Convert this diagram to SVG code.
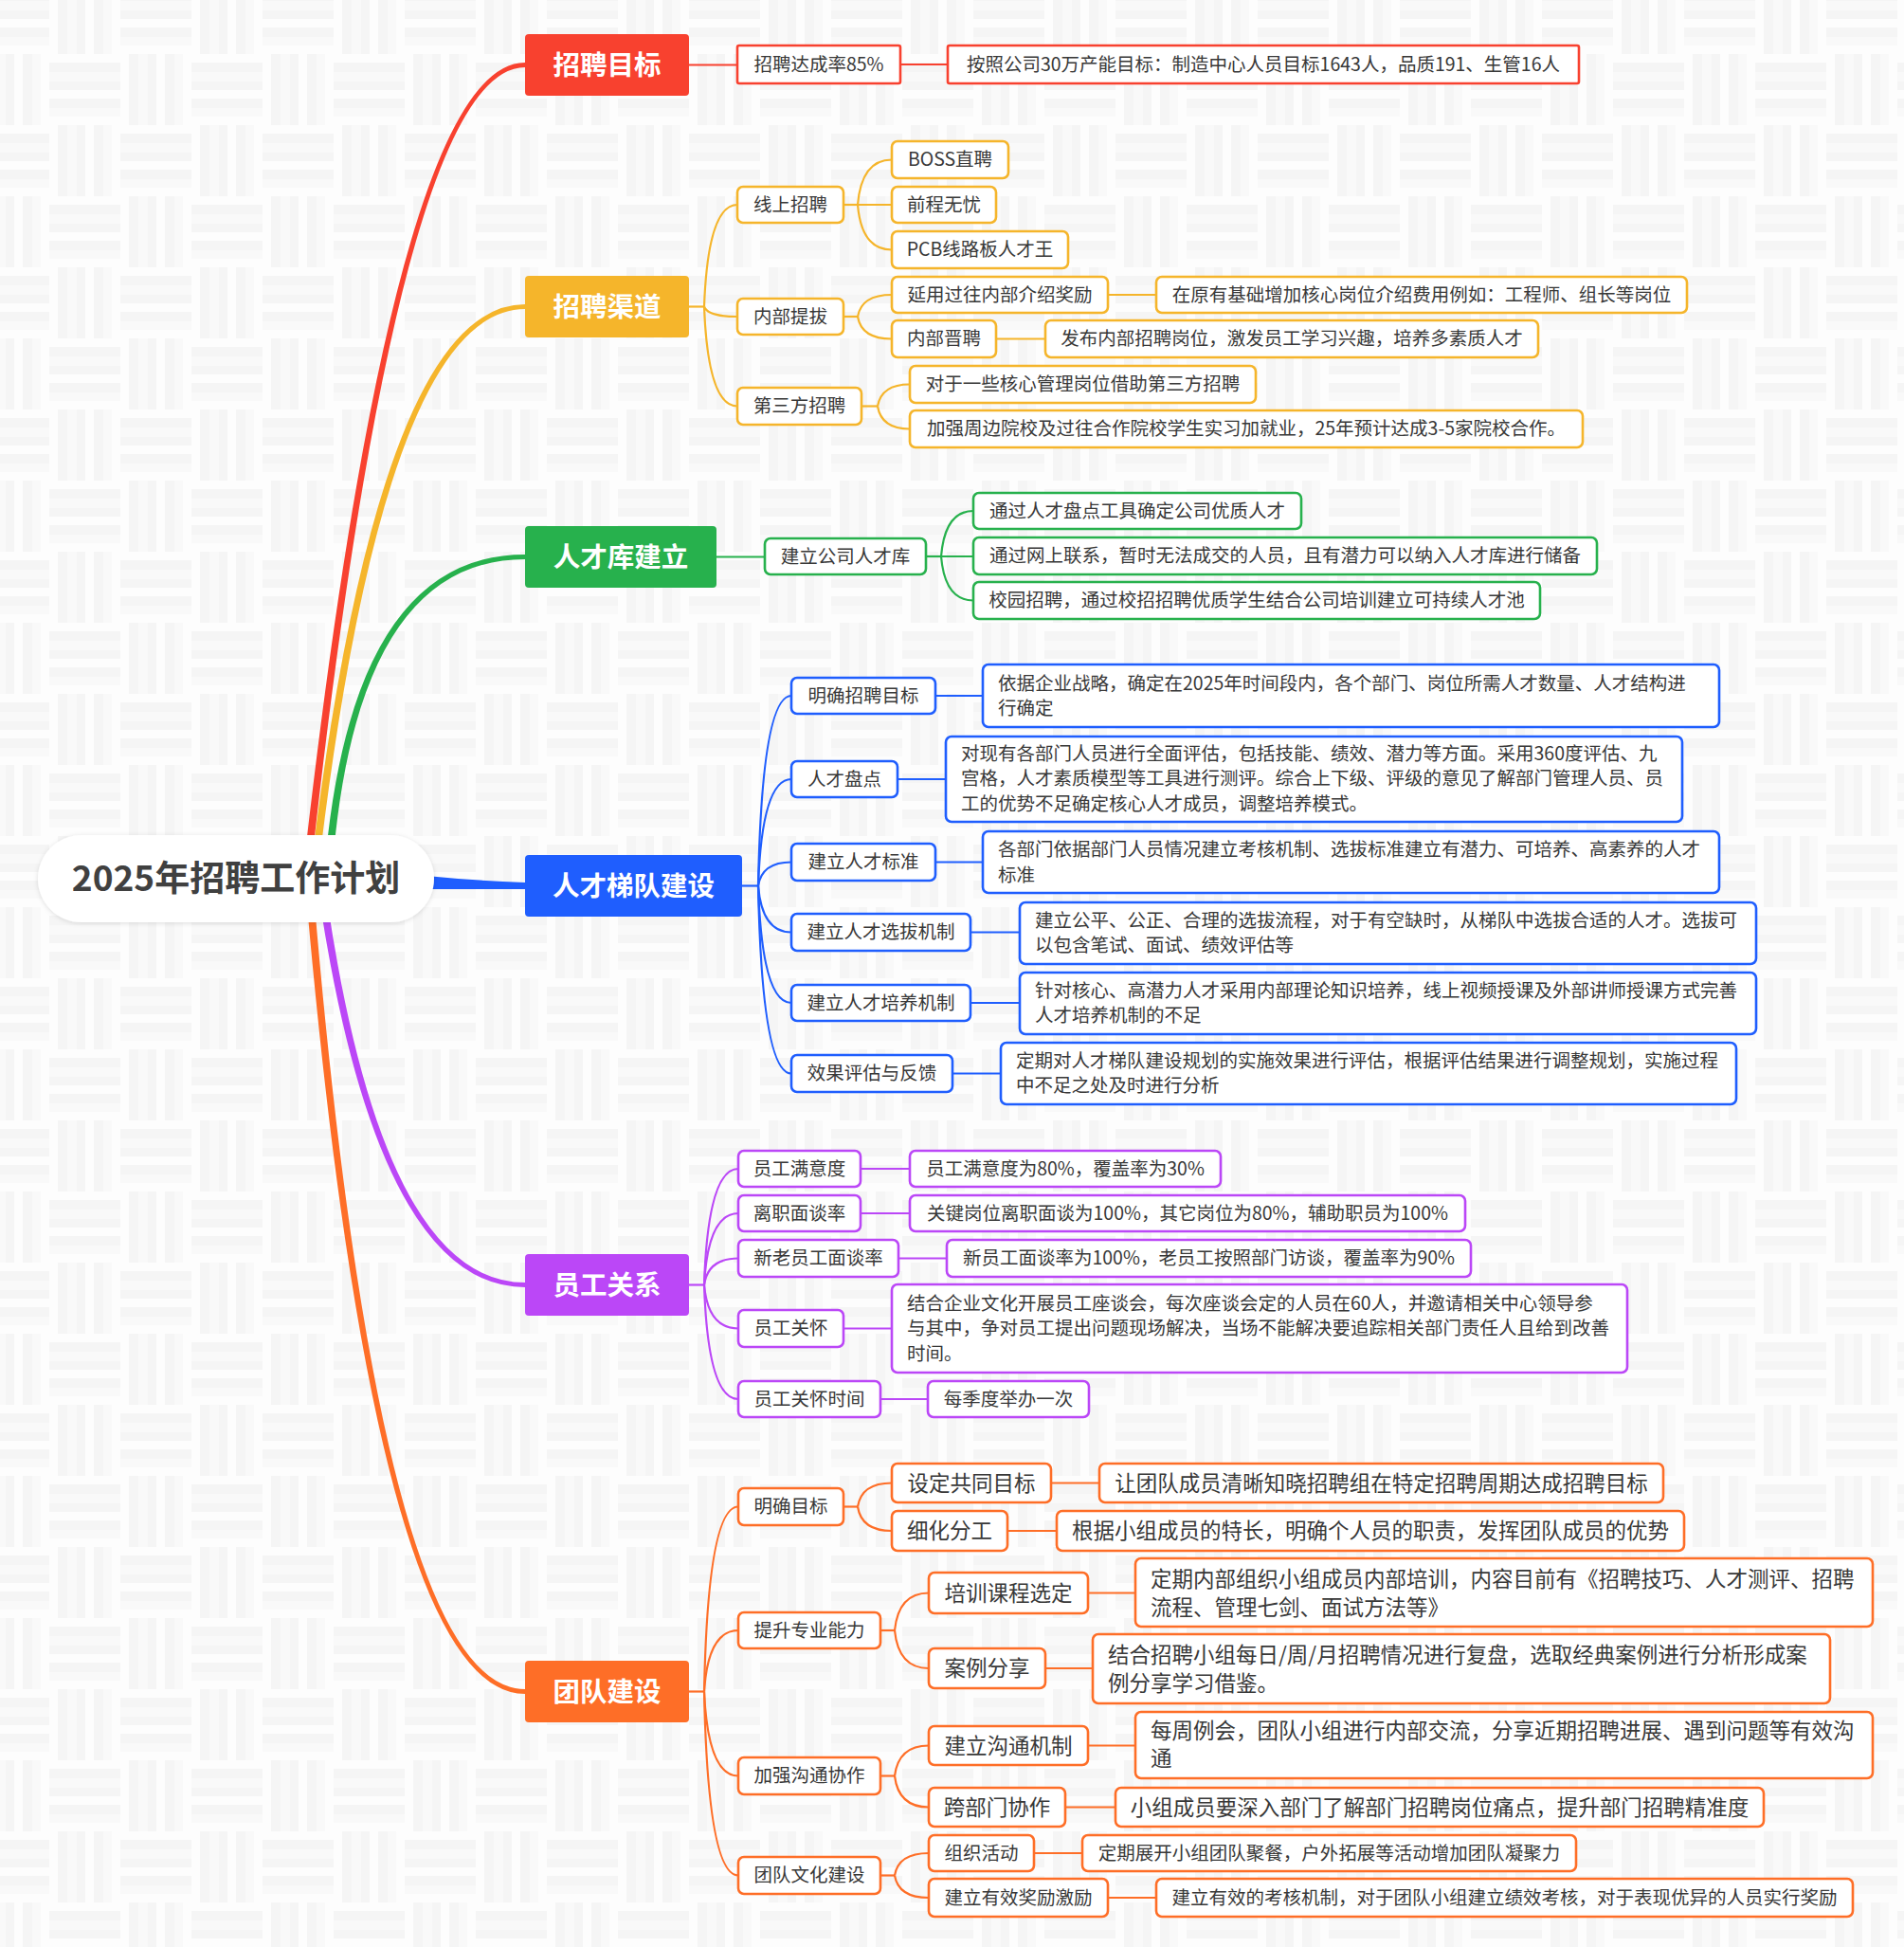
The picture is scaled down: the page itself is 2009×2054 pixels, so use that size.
<svg xmlns="http://www.w3.org/2000/svg" width="2009" height="2054" viewBox="0 0 2009 2054">
<defs>
<pattern id="bg" x="52" y="57" width="150" height="150" patternUnits="userSpaceOnUse">
<rect width="150" height="150" fill="#fdfdfd"/>
<g fill="#f5f5f5">
<rect x="0" y="9" width="75" height="10"/><rect x="0" y="29" width="75" height="9"/><rect x="0" y="47" width="75" height="10"/>
<rect x="75" y="84" width="75" height="10"/><rect x="75" y="104" width="75" height="9"/><rect x="75" y="122" width="75" height="10"/>
<rect x="84" y="0" width="10" height="75"/><rect x="104" y="0" width="9" height="75"/><rect x="122" y="0" width="10" height="75"/>
<rect x="9" y="75" width="10" height="75"/><rect x="29" y="75" width="9" height="75"/><rect x="47" y="75" width="10" height="75"/>
</g>
<g fill="#f9f9f9">
<rect x="0" y="19" width="75" height="10"/><rect x="0" y="57" width="75" height="9"/>
<rect x="75" y="94" width="75" height="10"/><rect x="75" y="132" width="75" height="9"/>
<rect x="94" y="0" width="10" height="75"/><rect x="132" y="0" width="9" height="75"/>
<rect x="19" y="75" width="10" height="75"/><rect x="57" y="75" width="9" height="75"/>
</g>
</pattern>
<filter id="sh" x="-10%" y="-30%" width="120%" height="160%">
<feDropShadow dx="0" dy="1" stdDeviation="2.5" flood-color="#000" flood-opacity="0.13"/>
</filter>
</defs>
<style>
text{font-family:"Noto Sans CJK SC","Noto Sans",sans-serif;font-size:19.5px;fill:#383838;dominant-baseline:central;transform:translateY(-2px)}
.c{text-anchor:middle}
.l{text-anchor:start}
.big{font-size:22.5px}
.mt{font-size:28.5px;font-weight:bold;fill:#fff;text-anchor:middle}
.root{font-size:37px;font-weight:bold;fill:#404040;text-anchor:middle}
.nr{fill:#fff;stroke:#f8412f;stroke-width:2.6}
.ny{fill:#fff;stroke:#f5b52b;stroke-width:2.6}
.ng{fill:#fff;stroke:#27b14d;stroke-width:2.6}
.nb{fill:#fff;stroke:#1f5efe;stroke-width:2.6}
.np{fill:#fff;stroke:#bb47f7;stroke-width:2.6}
.no{fill:#fff;stroke:#fe6e27;stroke-width:2.6}
.cn path{fill:none;stroke-width:2.2}
.sr{stroke:#f8412f}.sy{stroke:#f5b52b}.sg{stroke:#27b14d}.sb{stroke:#1f5efe}.sp{stroke:#bb47f7}.so{stroke:#fe6e27}
</style>
<rect width="2009" height="2054" fill="url(#bg)"/>

<g id="connectors">
<g id="main-branches">
<path d="M330 900 Q402 321 554 321 L554 326 Q408 326 338 900 Z" fill="#f5b52b"/>
<path d="M322 900 Q417.5 66 554 66 L554 71 Q422.5 71 330 900 Z" fill="#f8412f"/>
<path d="M344 900 Q375.5 585 554 585 L554 590 Q380.5 590 352 900 Z" fill="#27b14d"/>
<path d="M450 924 Q500 929 554 931 L554 938 Q500 938 450 938 Z" fill="#1f5efe"/>
<path d="M324 955 Q397.5 1787 554 1787 L554 1782 Q402.5 1782 332 955 Z" fill="#fe6e27"/>
<path d="M338 955 Q400.5 1358 554 1358 L554 1353 Q405.5 1353 346 955 Z" fill="#bb47f7"/>
</g>
<g class="cn">
<g class="sr">
<path d="M727 68.5 H778"/>
<path d="M950 68 H1000"/>
</g>
<g class="sy">
<path d="M727 323.5 H743"/>
<path d="M743 323.5 Q747 216 778 216"/>
<path d="M743 323.5 Q747 334 778 334"/>
<path d="M743 323.5 Q747 428.5 778 428.5"/>
<path d="M890 216 H905"/>
<path d="M905 216 Q909 168.5 941 168.5"/>
<path d="M905 216 H941"/>
<path d="M905 216 Q909 263.5 941 263.5"/>
<path d="M890 334 H905"/>
<path d="M905 334 Q909 311 941 311"/>
<path d="M905 334 Q909 357.5 941 357.5"/>
<path d="M909 428.5 H926"/>
<path d="M926 428.5 Q930 405.5 960 405.5"/>
<path d="M926 428.5 Q930 452.5 960 452.5"/>
<path d="M1169 311 H1220"/>
<path d="M1051 357.5 H1103"/>
</g>
<g class="sg">
<path d="M756 587.5 H807"/>
<path d="M977 587 H993"/>
<path d="M993 587 Q997 539 1027 539"/>
<path d="M993 587 H1027"/>
<path d="M993 587 Q997 633.5 1027 633.5"/>
</g>
<g class="sb">
<path d="M783 934.5 H800"/>
<path d="M800 934.5 Q804 734 835 734"/>
<path d="M800 934.5 Q804 822 835 822"/>
<path d="M800 934.5 Q804 909.5 835 909.5"/>
<path d="M800 934.5 Q804 983.5 835 983.5"/>
<path d="M800 934.5 Q804 1058 835 1058"/>
<path d="M800 934.5 Q804 1132.5 835 1132.5"/>
<path d="M987 734 H1037"/>
<path d="M947 822 H998"/>
<path d="M987 909.5 H1037"/>
<path d="M1024 983.5 H1076"/>
<path d="M1024 1058 H1076"/>
<path d="M1005 1132.5 H1056"/>
</g>
<g class="sp">
<path d="M727 1355.5 H743"/>
<path d="M743 1355.5 Q747 1233 779 1233"/>
<path d="M743 1355.5 Q747 1280 779 1280"/>
<path d="M743 1355.5 Q747 1327.5 779 1327.5"/>
<path d="M743 1355.5 Q747 1401.5 779 1401.5"/>
<path d="M743 1355.5 Q747 1476 779 1476"/>
<path d="M908 1233 H960"/>
<path d="M908 1280 H960"/>
<path d="M948 1327.5 H999"/>
<path d="M890 1401.5 H941"/>
<path d="M929 1476 H979"/>
</g>
<g class="so">
<path d="M727 1784.5 H743"/>
<path d="M743 1784.5 Q747 1589.5 779 1589.5"/>
<path d="M743 1784.5 Q747 1720 779 1720"/>
<path d="M743 1784.5 Q747 1873.5 779 1873.5"/>
<path d="M743 1784.5 Q747 1978.5 779 1978.5"/>
<path d="M890 1589.5 H905"/>
<path d="M905 1589.5 Q909 1564.5 941 1564.5"/>
<path d="M905 1589.5 Q909 1615 941 1615"/>
<path d="M929 1720 H944"/>
<path d="M944 1720 Q948 1680.5 980 1680.5"/>
<path d="M944 1720 Q948 1760 980 1760"/>
<path d="M929 1873.5 H944"/>
<path d="M944 1873.5 Q948 1841.5 980 1841.5"/>
<path d="M944 1873.5 Q948 1906.5 980 1906.5"/>
<path d="M929 1978.5 H944"/>
<path d="M944 1978.5 Q948 1955 980 1955"/>
<path d="M944 1978.5 Q948 2002 980 2002"/>
<path d="M1109 1564.5 H1160"/>
<path d="M1063 1615 H1115"/>
<path d="M1148 1680.5 H1198"/>
<path d="M1103 1760 H1153"/>
<path d="M1148 1841.5 H1198"/>
<path d="M1124 1906.5 H1177"/>
<path d="M1091 1955 H1142"/>
<path d="M1169 2002 H1220"/>
</g>
</g>
</g>

<g id="root"><rect x="40" y="881" width="418" height="92" rx="46" fill="#fff" filter="url(#sh)"/><text class="root" x="249" y="926">2025年招聘工作计划</text></g>

<g id="n-zpmb"><rect x="554" y="36" width="173" height="65" rx="4" fill="#f8412f"/><text class="mt" x="640.5" y="68.5">招聘目标</text></g>
<g id="n-zpdcl"><rect class="nr" x="778" y="48" width="172" height="40" rx="2"/><text class="c" x="864" y="68">招聘达成率85%</text></g>
<g id="n-azgs"><rect class="nr" x="1000" y="48" width="666" height="40" rx="2"/><text class="c" x="1333" y="68">按照公司30万产能目标：制造中心人员目标1643人，品质191、生管16人</text></g>

<g id="n-zpqd"><rect x="554" y="291" width="173" height="65" rx="4" fill="#f5b52b"/><text class="mt" x="640.5" y="323.5">招聘渠道</text></g>
<g id="n-xszp"><rect class="ny" x="778" y="197" width="112" height="38" rx="6"/><text class="c" x="834" y="216">线上招聘</text></g>
<g id="n-boss"><rect class="ny" x="941" y="149" width="123" height="39" rx="6"/><text class="c" x="1002.5" y="168.5">BOSS直聘</text></g>
<g id="n-qcwy"><rect class="ny" x="941" y="197" width="110" height="38" rx="6"/><text class="c" x="996" y="216">前程无忧</text></g>
<g id="n-pcb"><rect class="ny" x="941" y="244" width="186" height="39" rx="6"/><text class="c" x="1034" y="263.5">PCB线路板人才王</text></g>
<g id="n-nbtb"><rect class="ny" x="778" y="315" width="112" height="38" rx="6"/><text class="c" x="834" y="334">内部提拔</text></g>
<g id="n-yygw"><rect class="ny" x="941" y="292" width="228" height="38" rx="6"/><text class="c" x="1055" y="311">延用过往内部介绍奖励</text></g>
<g id="n-zyyjc"><rect class="ny" x="1220" y="292" width="560" height="38" rx="6"/><text class="c" x="1500" y="311">在原有基础增加核心岗位介绍费用例如：工程师、组长等岗位</text></g>
<g id="n-nbjp"><rect class="ny" x="941" y="338" width="110" height="39" rx="6"/><text class="c" x="996" y="357.5">内部晋聘</text></g>
<g id="n-fbnb"><rect class="ny" x="1103" y="338" width="520" height="39" rx="6"/><text class="c" x="1363" y="357.5">发布内部招聘岗位，激发员工学习兴趣，培养多素质人才</text></g>
<g id="n-dsf"><rect class="ny" x="778" y="409" width="131" height="39" rx="6"/><text class="c" x="843.5" y="428.5">第三方招聘</text></g>
<g id="n-dyyx"><rect class="ny" x="960" y="386" width="365" height="39" rx="6"/><text class="c" x="1142.5" y="405.5">对于一些核心管理岗位借助第三方招聘</text></g>
<g id="n-jqzb"><rect class="ny" x="960" y="433" width="710" height="39" rx="6"/><text class="c" x="1315" y="452.5">加强周边院校及过往合作院校学生实习加就业，25年预计达成3-5家院校合作。</text></g>

<g id="n-rckjl"><rect x="554" y="555" width="202" height="65" rx="4" fill="#27b14d"/><text class="mt" x="655" y="587.5">人才库建立</text></g>
<g id="n-jlgs"><rect class="ng" x="807" y="568" width="170" height="38" rx="6"/><text class="c" x="892" y="587">建立公司人才库</text></g>
<g id="n-tgrc"><rect class="ng" x="1027" y="520" width="346" height="38" rx="6"/><text class="c" x="1200" y="539">通过人才盘点工具确定公司优质人才</text></g>
<g id="n-tgws"><rect class="ng" x="1027" y="567" width="658" height="39" rx="6"/><text class="c" x="1356" y="586.5">通过网上联系，暂时无法成交的人员，且有潜力可以纳入人才库进行储备</text></g>
<g id="n-xyzp"><rect class="ng" x="1027" y="614" width="598" height="39" rx="6"/><text class="c" x="1326" y="633.5">校园招聘，通过校招招聘优质学生结合公司培训建立可持续人才池</text></g>

<g id="n-rctd"><rect x="554" y="902" width="229" height="65" rx="4" fill="#1f5efe"/><text class="mt" x="668.5" y="934.5">人才梯队建设</text></g>
<g id="n-mqzpmb"><rect class="nb" x="835" y="715" width="152" height="38" rx="6"/><text class="c" x="911" y="734">明确招聘目标</text></g>
<g id="n-yjqy"><rect class="nb" x="1037" y="701" width="777" height="66" rx="6"/><text class="l" x="1053" y="721">依据企业战略，确定在2025年时间段内，各个部门、岗位所需人才数量、人才结构进</text><text class="l" x="1053" y="747">行确定</text></g>
<g id="n-rcpd"><rect class="nb" x="835" y="803" width="112" height="38" rx="6"/><text class="c" x="891" y="822">人才盘点</text></g>
<g id="n-dxy"><rect class="nb" x="998" y="777" width="777" height="90" rx="6"/><text class="l" x="1014" y="795">对现有各部门人员进行全面评估，包括技能、绩效、潜力等方面。采用360度评估、九</text><text class="l" x="1014" y="821.5">宫格，人才素质模型等工具进行测评。综合上下级、评级的意见了解部门管理人员、员</text><text class="l" x="1014" y="848">工的优势不足确定核心人才成员，调整培养模式。</text></g>
<g id="n-jlrcbz"><rect class="nb" x="835" y="890" width="152" height="39" rx="6"/><text class="c" x="911" y="909.5">建立人才标准</text></g>
<g id="n-gbm"><rect class="nb" x="1037" y="877" width="777" height="65" rx="6"/><text class="l" x="1053" y="896.5">各部门依据部门人员情况建立考核机制、选拔标准建立有潜力、可培养、高素养的人才</text><text class="l" x="1053" y="923">标准</text></g>
<g id="n-jlxb"><rect class="nb" x="835" y="964" width="189" height="39" rx="6"/><text class="c" x="929.5" y="983.5">建立人才选拔机制</text></g>
<g id="n-jlgp"><rect class="nb" x="1076" y="952" width="777" height="65" rx="6"/><text class="l" x="1092" y="971">建立公平、公正、合理的选拔流程，对于有空缺时，从梯队中选拔合适的人才。选拔可</text><text class="l" x="1092" y="997">以包含笔试、面试、绩效评估等</text></g>
<g id="n-jlpy"><rect class="nb" x="835" y="1039" width="189" height="38" rx="6"/><text class="c" x="929.5" y="1058">建立人才培养机制</text></g>
<g id="n-zdhx"><rect class="nb" x="1076" y="1026" width="777" height="65" rx="6"/><text class="l" x="1092" y="1045">针对核心、高潜力人才采用内部理论知识培养，线上视频授课及外部讲师授课方式完善</text><text class="l" x="1092" y="1071">人才培养机制的不足</text></g>
<g id="n-xgpg"><rect class="nb" x="835" y="1113" width="170" height="39" rx="6"/><text class="c" x="920" y="1132.5">效果评估与反馈</text></g>
<g id="n-dqdrc"><rect class="nb" x="1056" y="1100" width="776" height="65" rx="6"/><text class="l" x="1072" y="1119">定期对人才梯队建设规划的实施效果进行评估，根据评估结果进行调整规划，实施过程</text><text class="l" x="1072" y="1145">中不足之处及时进行分析</text></g>

<g id="n-ygggx"><rect x="554" y="1323" width="173" height="65" rx="4" fill="#bb47f7"/><text class="mt" x="640.5" y="1355.5">员工关系</text></g>
<g id="n-ygmyd"><rect class="np" x="779" y="1214" width="129" height="38" rx="6"/><text class="c" x="843.5" y="1233">员工满意度</text></g>
<g id="n-ygmyd2"><rect class="np" x="960" y="1214" width="328" height="38" rx="6"/><text class="c" x="1124" y="1233">员工满意度为80%，覆盖率为30%</text></g>
<g id="n-lzmtl"><rect class="np" x="779" y="1261" width="129" height="38" rx="6"/><text class="c" x="843.5" y="1280">离职面谈率</text></g>
<g id="n-gjgw"><rect class="np" x="960" y="1261" width="586" height="38" rx="6"/><text class="c" x="1253" y="1280">关键岗位离职面谈为100%，其它岗位为80%，辅助职员为100%</text></g>
<g id="n-xlyg"><rect class="np" x="779" y="1308" width="169" height="39" rx="6"/><text class="c" x="863.5" y="1327.5">新老员工面谈率</text></g>
<g id="n-xygmt"><rect class="np" x="999" y="1308" width="553" height="39" rx="6"/><text class="c" x="1275.5" y="1327.5">新员工面谈率为100%，老员工按照部门访谈，覆盖率为90%</text></g>
<g id="n-yggh"><rect class="np" x="779" y="1382" width="111" height="39" rx="6"/><text class="c" x="834.5" y="1401.5">员工关怀</text></g>
<g id="n-jhqy"><rect class="np" x="941" y="1355" width="776" height="93" rx="6"/><text class="l" x="957" y="1375">结合企业文化开展员工座谈会，每次座谈会定的人员在60人，并邀请相关中心领导参</text><text class="l" x="957" y="1401.5">与其中，争对员工提出问题现场解决，当场不能解决要追踪相关部门责任人且给到改善</text><text class="l" x="957" y="1428">时间。</text></g>
<g id="n-ygghsj"><rect class="np" x="779" y="1457" width="150" height="38" rx="6"/><text class="c" x="854" y="1476">员工关怀时间</text></g>
<g id="n-mjd"><rect class="np" x="979" y="1457" width="170" height="38" rx="6"/><text class="c" x="1064" y="1476">每季度举办一次</text></g>

<g id="n-tdjs"><rect x="554" y="1752" width="173" height="65" rx="4" fill="#fe6e27"/><text class="mt" x="640.5" y="1784.5">团队建设</text></g>
<g id="n-mqmb"><rect class="no" x="779" y="1570" width="111" height="39" rx="6"/><text class="c" x="834.5" y="1589.5">明确目标</text></g>
<g id="n-sdgt"><rect class="no" x="941" y="1544" width="168" height="41" rx="6"/><text class="c big" x="1025" y="1564.5">设定共同目标</text></g>
<g id="n-rtd"><rect class="no" x="1160" y="1544" width="595" height="41" rx="6"/><text class="c big" x="1457.5" y="1564.5">让团队成员清晰知晓招聘组在特定招聘周期达成招聘目标</text></g>
<g id="n-xhfg"><rect class="no" x="941" y="1594" width="122" height="42" rx="6"/><text class="c big" x="1002" y="1615">细化分工</text></g>
<g id="n-gjxz"><rect class="no" x="1115" y="1594" width="662" height="42" rx="6"/><text class="c big" x="1446" y="1615">根据小组成员的特长，明确个人员的职责，发挥团队成员的优势</text></g>
<g id="n-tszy"><rect class="no" x="779" y="1701" width="150" height="38" rx="6"/><text class="c" x="854" y="1720">提升专业能力</text></g>
<g id="n-pxkc"><rect class="no" x="980" y="1659" width="168" height="43" rx="6"/><text class="c big" x="1064" y="1680.5">培训课程选定</text></g>
<g id="n-dqnb"><rect class="no" x="1198" y="1644" width="778" height="72" rx="6"/><text class="l big" x="1214" y="1666">定期内部组织小组成员内部培训，内容目前有《招聘技巧、人才测评、招聘</text><text class="l big" x="1214" y="1696">流程、管理七剑、面试方法等》</text></g>
<g id="n-alfx"><rect class="no" x="980" y="1739" width="123" height="42" rx="6"/><text class="c big" x="1041.5" y="1760">案例分享</text></g>
<g id="n-jhzp"><rect class="no" x="1153" y="1724" width="778" height="73" rx="6"/><text class="l big" x="1169" y="1746">结合招聘小组每日/周/月招聘情况进行复盘，选取经典案例进行分析形成案</text><text class="l big" x="1169" y="1776">例分享学习借鉴。</text></g>
<g id="n-jqgt"><rect class="no" x="779" y="1854" width="150" height="39" rx="6"/><text class="c" x="854" y="1873.5">加强沟通协作</text></g>
<g id="n-jlgt"><rect class="no" x="980" y="1821" width="168" height="41" rx="6"/><text class="c big" x="1064" y="1841.5">建立沟通机制</text></g>
<g id="n-mzlh"><rect class="no" x="1198" y="1806" width="778" height="70" rx="6"/><text class="l big" x="1214" y="1826">每周例会，团队小组进行内部交流，分享近期招聘进展、遇到问题等有效沟</text><text class="l big" x="1214" y="1855">通</text></g>
<g id="n-kbm"><rect class="no" x="980" y="1886" width="144" height="41" rx="6"/><text class="c big" x="1052" y="1906.5">跨部门协作</text></g>
<g id="n-xzcy"><rect class="no" x="1177" y="1886" width="684" height="41" rx="6"/><text class="c big" x="1519" y="1906.5">小组成员要深入部门了解部门招聘岗位痛点，提升部门招聘精准度</text></g>
<g id="n-tdwh"><rect class="no" x="779" y="1959" width="150" height="39" rx="6"/><text class="c" x="854" y="1978.5">团队文化建设</text></g>
<g id="n-zzhd"><rect class="no" x="980" y="1936" width="111" height="38" rx="6"/><text class="c" x="1035.5" y="1955">组织活动</text></g>
<g id="n-dqzk"><rect class="no" x="1142" y="1936" width="521" height="38" rx="6"/><text class="c" x="1402.5" y="1955">定期展开小组团队聚餐，户外拓展等活动增加团队凝聚力</text></g>
<g id="n-jlyx"><rect class="no" x="980" y="1982" width="189" height="40" rx="6"/><text class="c" x="1074.5" y="2002">建立有效奖励激励</text></g>
<g id="n-jlyxkh"><rect class="no" x="1220" y="1982" width="735" height="40" rx="6"/><text class="c" x="1587.5" y="2002">建立有效的考核机制，对于团队小组建立绩效考核，对于表现优异的人员实行奖励</text></g>
</svg>
